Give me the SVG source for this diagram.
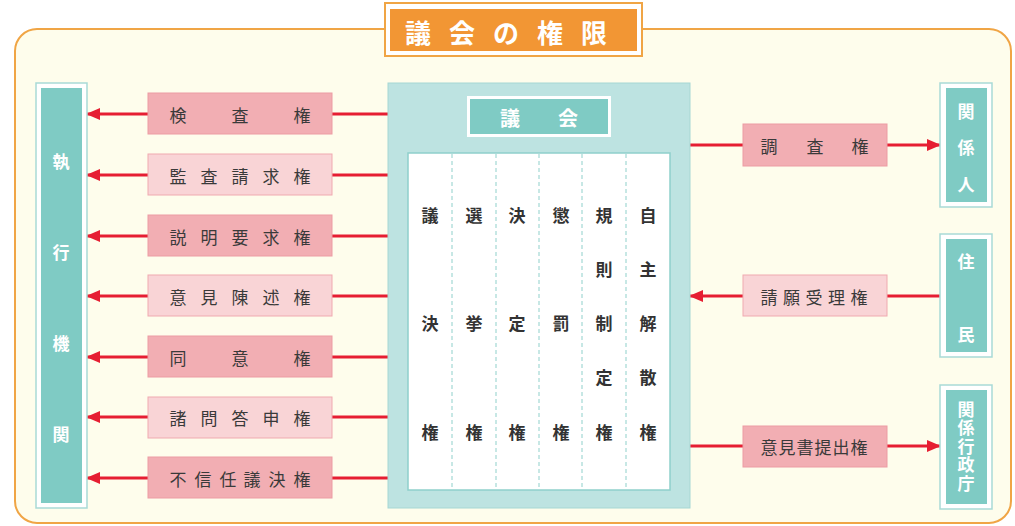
<svg xmlns="http://www.w3.org/2000/svg" width="1015" height="526" viewBox="0 0 1015 526">
<defs>
<marker id="ah" markerUnits="userSpaceOnUse" markerWidth="14" markerHeight="14" viewBox="0 0 14 14" refX="13" refY="7" orient="auto">
<polygon points="0,1 14,7 0,13" fill="#E61E32"/>
</marker>
<style>
.lbl{font-family:"Noto Sans CJK JP","Noto Sans",sans-serif;font-size:17px;fill:#3a3a3a;text-anchor:middle;dominant-baseline:central}
.dk{fill:#F2AEB3;stroke:#EC9CA3;stroke-width:1}
.lt{fill:#F9D4D6;stroke:#EFAAB0;stroke-width:1}
.wt{font-family:"Noto Sans CJK JP","Noto Sans",sans-serif;font-weight:bold;fill:#fff;text-anchor:middle;dominant-baseline:central}
.col{font-family:"Noto Sans CJK JP","Noto Sans",sans-serif;font-weight:bold;font-size:17px;fill:#333;text-anchor:middle;dominant-baseline:central}
.ln{stroke:#E61E32;stroke-width:3;fill:none}
.tout{fill:#fff;stroke:#A9DAD6;stroke-width:1.5}
.tin{fill:#7FCBC4}
.dash{stroke:#8FD0CB;stroke-width:1;stroke-dasharray:4 3}
</style>
</defs>
<rect width="1015" height="526" fill="#fff"/>
<g id="frame">
<rect x="15" y="29" width="996" height="494" rx="22" fill="#FEFDEC" stroke="#F0A545" stroke-width="2"/>
</g>
<g id="title">
<rect x="385" y="3" width="257" height="53" fill="#fff" stroke="#F0A545" stroke-width="2"/>
<rect x="390" y="9" width="247" height="42" fill="#F29634"/>
<text class="wt" font-size="26" x="418 462 506 550 594" y="31">議会の権限</text>
</g>
<g id="connectors">
<line class="ln" x1="388" y1="114" x2="332" y2="114"/><line class="ln" x1="148" y1="114" x2="87" y2="114" marker-end="url(#ah)"/>
<line class="ln" x1="388" y1="175" x2="332" y2="175"/><line class="ln" x1="148" y1="175" x2="87" y2="175" marker-end="url(#ah)"/>
<line class="ln" x1="388" y1="236" x2="332" y2="236"/><line class="ln" x1="148" y1="236" x2="87" y2="236" marker-end="url(#ah)"/>
<line class="ln" x1="388" y1="296" x2="332" y2="296"/><line class="ln" x1="148" y1="296" x2="87" y2="296" marker-end="url(#ah)"/>
<line class="ln" x1="388" y1="357" x2="332" y2="357"/><line class="ln" x1="148" y1="357" x2="87" y2="357" marker-end="url(#ah)"/>
<line class="ln" x1="388" y1="417" x2="332" y2="417"/><line class="ln" x1="148" y1="417" x2="87" y2="417" marker-end="url(#ah)"/>
<line class="ln" x1="388" y1="478" x2="332" y2="478"/><line class="ln" x1="148" y1="478" x2="87" y2="478" marker-end="url(#ah)"/>
<line class="ln" x1="690" y1="145" x2="743" y2="145"/><line class="ln" x1="887" y1="145" x2="940" y2="145" marker-end="url(#ah)"/>
<line class="ln" x1="940" y1="296" x2="887" y2="296"/><line class="ln" x1="743" y1="296" x2="690" y2="296" marker-end="url(#ah)"/>
<line class="ln" x1="690" y1="446" x2="743" y2="446"/><line class="ln" x1="887" y1="446" x2="940" y2="446" marker-end="url(#ah)"/>
</g>
<g id="executive">
<rect class="tout" x="36" y="83" width="51" height="425"/>
<rect class="tin" x="41" y="88" width="41" height="415"/>
<text class="wt" font-size="17" x="61" y="160">執</text>
<text class="wt" font-size="17" x="61" y="251">行</text>
<text class="wt" font-size="17" x="61" y="342">機</text>
<text class="wt" font-size="17" x="61" y="433">関</text>
</g>
<g id="l1"><rect class="dk" x="148" y="93" width="184" height="41"/><text class="lbl" x="178 240 302" y="114">検査権</text></g>
<g id="l2"><rect class="lt" x="148" y="154" width="184" height="41"/><text class="lbl" x="178 209 240 271 302" y="175">監査請求権</text></g>
<g id="l3"><rect class="dk" x="148" y="215" width="184" height="41"/><text class="lbl" x="178 209 240 271 302" y="236">説明要求権</text></g>
<g id="l4"><rect class="lt" x="148" y="275" width="184" height="41"/><text class="lbl" x="178 209 240 271 302" y="296">意見陳述権</text></g>
<g id="l5"><rect class="dk" x="148" y="336" width="184" height="41"/><text class="lbl" x="178 240 302" y="357">同意権</text></g>
<g id="l6"><rect class="lt" x="148" y="397" width="184" height="41"/><text class="lbl" x="178 209 240 271 302" y="417">諸問答申権</text></g>
<g id="l7"><rect class="dk" x="148" y="457" width="184" height="41"/><text class="lbl" x="178 203 228 252 277 302" y="478">不信任議決権</text></g>
<g id="council">
<rect x="388" y="83" width="302" height="425" fill="#BDE3E1" stroke="#A6D7D3" stroke-width="1"/>
<rect x="467" y="96" width="144" height="41" fill="#fff"/>
<rect x="470" y="99" width="138" height="35" fill="#7FCBC4"/>
<text class="wt" font-size="20" x="510 568" y="117">議会</text>
<rect x="408" y="153" width="262" height="337" fill="#fff" stroke="#8FD0CB" stroke-width="1.5"/>
<line class="dash" x1="452" y1="154" x2="452" y2="489"/>
<line class="dash" x1="496" y1="154" x2="496" y2="489"/>
<line class="dash" x1="539" y1="154" x2="539" y2="489"/>
<line class="dash" x1="582" y1="154" x2="582" y2="489"/>
<line class="dash" x1="626" y1="154" x2="626" y2="489"/>
<text class="col" x="430" y="214">議</text><text class="col" x="430" y="322">決</text><text class="col" x="430" y="431">権</text>
<text class="col" x="474" y="214">選</text><text class="col" x="474" y="322">挙</text><text class="col" x="474" y="431">権</text>
<text class="col" x="517" y="214">決</text><text class="col" x="517" y="322">定</text><text class="col" x="517" y="431">権</text>
<text class="col" x="561" y="214">懲</text><text class="col" x="561" y="322">罰</text><text class="col" x="561" y="431">権</text>
<text class="col" x="604" y="214">規</text><text class="col" x="604" y="268">則</text><text class="col" x="604" y="322">制</text><text class="col" x="604" y="376">定</text><text class="col" x="604" y="431">権</text>
<text class="col" x="648" y="214">自</text><text class="col" x="648" y="268">主</text><text class="col" x="648" y="322">解</text><text class="col" x="648" y="376">散</text><text class="col" x="648" y="431">権</text>
</g>
<g id="r1"><rect class="dk" x="743" y="124" width="144" height="42"/><text class="lbl" x="769 815 860" y="145">調査権</text></g>
<g id="r2"><rect class="lt" x="743" y="275" width="144" height="41"/><text class="lbl" x="769 791.5 814 836.5 859" y="296">請願受理権</text></g>
<g id="r3"><rect class="dk" x="743" y="426" width="144" height="41"/><text class="lbl" x="769 787 805 823 841 859" y="446">意見書提出権</text></g>
<g id="related">
<rect class="tout" x="940" y="83" width="52" height="124"/>
<rect class="tin" x="946" y="88" width="41" height="114"/>
<text class="wt" font-size="17" x="966" y="110">関</text>
<text class="wt" font-size="17" x="966" y="146">係</text>
<text class="wt" font-size="17" x="966" y="183">人</text>
</g>
<g id="residents">
<rect class="tout" x="940" y="234" width="52" height="123"/>
<rect class="tin" x="946" y="239" width="41" height="113"/>
<text class="wt" font-size="17" x="966" y="260">住</text>
<text class="wt" font-size="17" x="966" y="333">民</text>
</g>
<g id="agencies">
<rect class="tout" x="940" y="385" width="52" height="124"/>
<rect class="tin" x="946" y="390" width="41" height="114"/>
<text font-family="'Noto Sans CJK JP','Noto Sans',sans-serif" font-weight="bold" font-size="17" fill="#fff" writing-mode="vertical-rl" letter-spacing="1.5" x="966" y="401">関係行政庁</text>
</g>
</svg>
